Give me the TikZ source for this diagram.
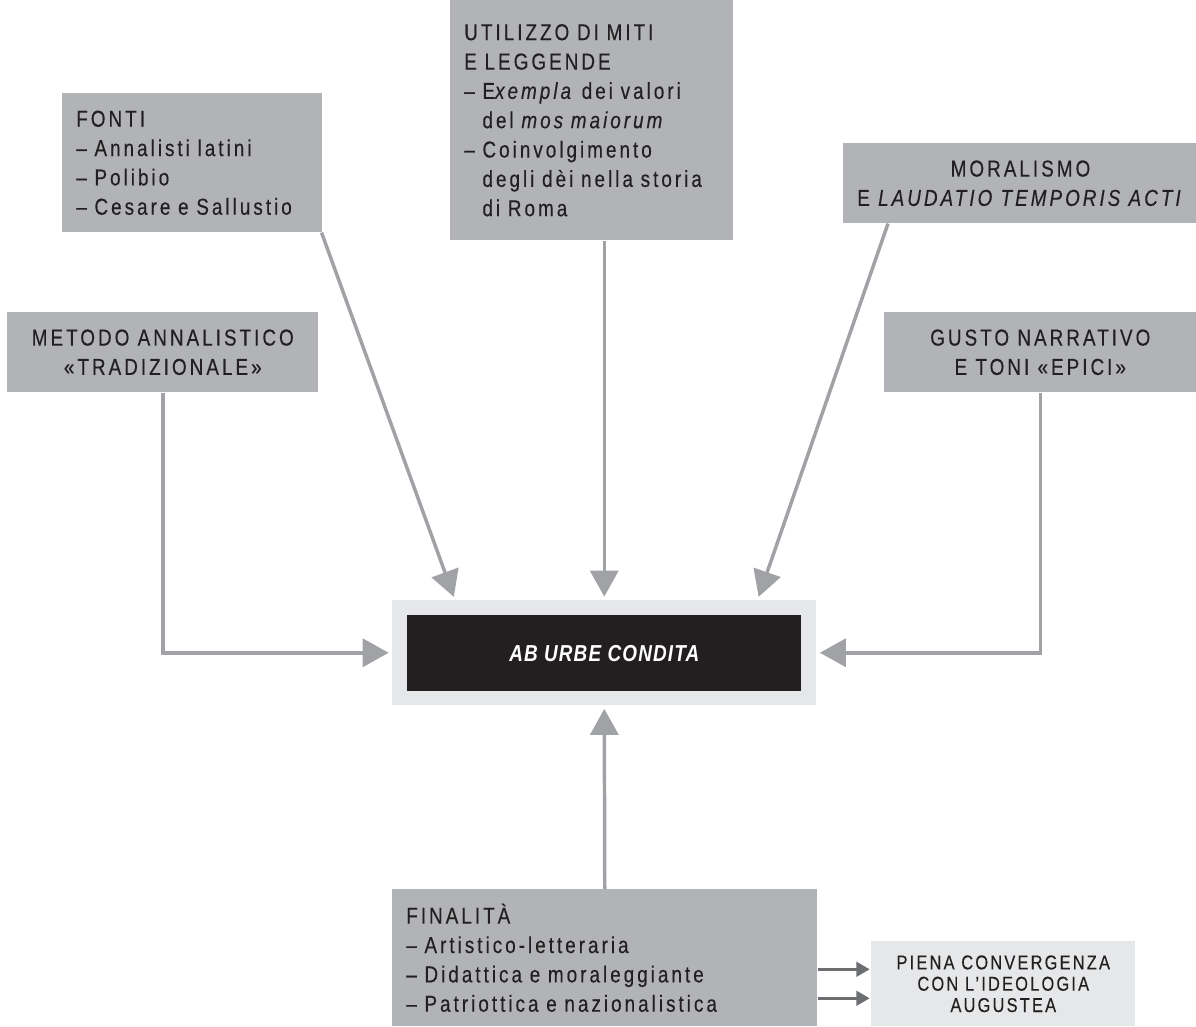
\documentclass[tikz,border=0pt]{standalone}
\usepackage{fontspec}
\setmainfont{Liberation Sans}[FakeStretch=0.82, LetterSpace=13, FakeBold=0.3]
\newfontfamily\titlefont{Liberation Sans}[FakeStretch=0.82, LetterSpace=5]
\usetikzlibrary{arrows.meta, positioning, calc}
\definecolor{boxgray}{HTML}{B1B3B6}
\definecolor{palegray}{HTML}{E6E7E8}
\definecolor{ink}{HTML}{231F20}
\definecolor{arrowgray}{HTML}{A0A2A5}
\definecolor{darkarrow}{HTML}{6D6E71}
\tikzset{
	graybox/.style={fill=boxgray, text=ink, anchor=north west, inner xsep=10.5pt, inner ysep=0pt, font=\fontsize{17.3}{22}\selectfont},
	leftbox/.style={graybox, align=left},
	centerbox/.style={graybox, align=center, minimum height=60pt},
	arrowline/.style={draw=arrowgray, line width=2.6pt, -{Triangle[length=19.5pt, width=21pt]}, shorten >=2.5pt},
	darkline/.style={draw=darkarrow, line width=2pt, -{Triangle[length=10pt, width=11pt]}, shorten >=1pt}
}

\begin{document}
\begin{tikzpicture}[x=0.75pt, y=-0.75pt]
	\useasboundingbox (0,0) rectangle (1196,1026);
	
	\node [leftbox, minimum width=195pt, text width=174pt, minimum height=104.25pt] (fonti) at (62,93)
		{FONTI\\– Annalisti latini\\– Polibio\\– Cesare e Sallustio};
	\node [leftbox, minimum width=212.25pt, text width=191.25pt, minimum height=180pt] (utilizzo) at (450,0)
		{UTILIZZO DI MITI\\E LEGGENDE\\– E\textit{xempla} dei valori\\\hphantom{– }del \textit{mos maiorum}\\– Coinvolgimento\\\hphantom{– }degli dèi nella storia\\\hphantom{– }di Roma};
	\node [centerbox, minimum width=264.75pt] (moralismo) at (843,143)
		{MORALISMO\\E \textit{LAUDATIO TEMPORIS ACTI}};
	\node [centerbox, minimum width=233.25pt] (metodo) at (7,312)
		{METODO ANNALISTICO\\«TRADIZIONALE»};
	\node [centerbox, minimum width=234pt] (gusto) at (884,312)
		{GUSTO NARRATIVO\\E TONI «EPICI»};
	
	\node [fill=palegray, anchor=north west, minimum width=318pt, minimum height=78.75pt, inner sep=0pt] (abouter) at (392,600) {};
	\node [fill=ink, text=white, anchor=north west, minimum width=295.5pt, minimum height=57pt, inner sep=0pt,
		font=\titlefont\fontsize{17.3}{22}\selectfont\bfseries\itshape] (abinner) at (407,615) {AB URBE CONDITA};
	
	\node [leftbox, minimum width=318.75pt, text width=297.75pt, minimum height=102.75pt] (finalita) at (392,889)
		{FINALITÀ\\– Artistico-letteraria\\– Didattica e moraleggiante\\– Patriottica e nazionalistica};
	\node [graybox, fill=palegray, align=center, minimum width=198pt, minimum height=63.75pt,
		font=\fontsize{15}{16}\selectfont\addfontfeature{LetterSpace=11}] (piena) at (871,941)
		{PIENA CONVERGENZA\\CON L’IDEOLOGIA\\AUGUSTEA};
	
	\draw [arrowline] (metodo.south) |- (abouter.west);
	\draw [arrowline] ($(fonti.south east)+(-1,0)$) -- ($(abouter.north west)+(63,0)$);
	\draw [arrowline] (abouter.north |- utilizzo.south) -- (abouter.north);
	\draw [arrowline] ($(moralismo.south west)+(45,0)$) -- ($(abouter.north east)+(-59,0)$);
	\draw [arrowline] (gusto.south) |- (abouter.east);
	\draw [arrowline] (finalita.north) -- (abouter.south);
	
	\foreach \dy [count=\i] in {-14.5, 14.5}
	{
		\coordinate (p\i) at ($(piena.west)+(0,\dy)$);
		\draw [darkline] (finalita.east |- p\i) -- (p\i);
	}
\end{tikzpicture}
\end{document}
